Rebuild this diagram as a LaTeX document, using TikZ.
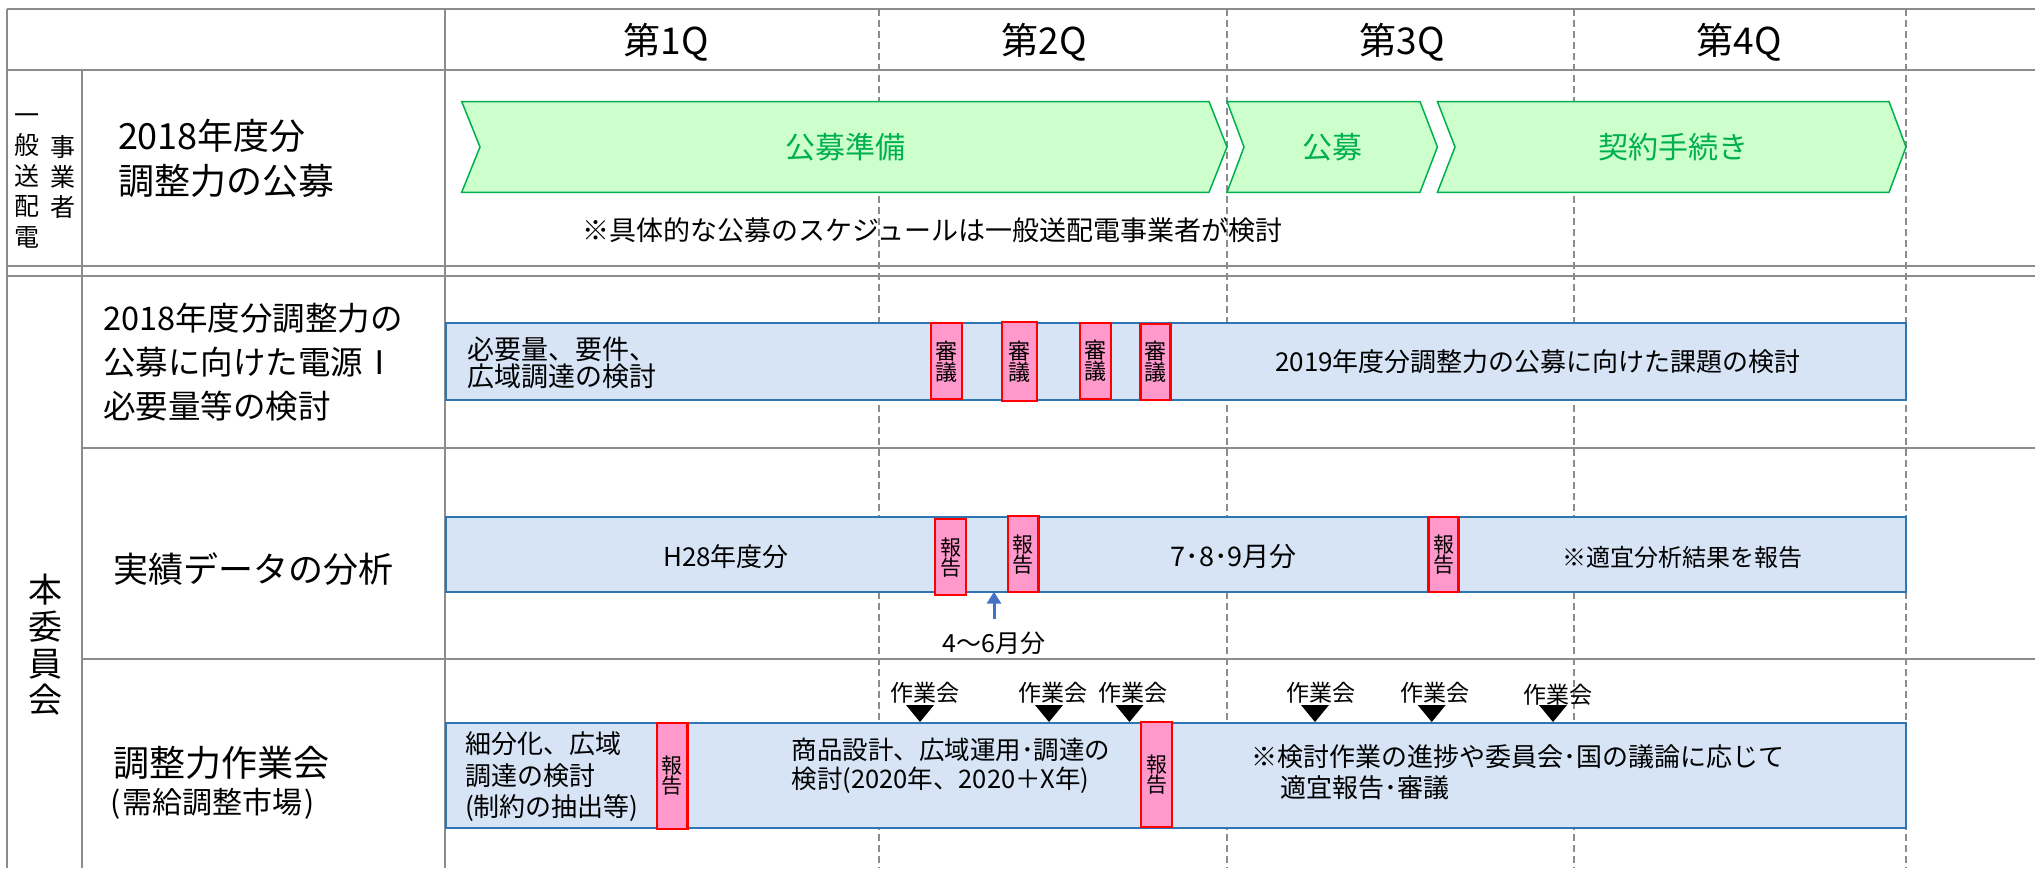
\documentclass[tikz,border=0pt]{standalone}
\usepackage{fontspec}
\setmainfont{Noto Sans CJK JP}
\usetikzlibrary{arrows.meta}
\definecolor{gridgray}{RGB}{140,140,140}
\definecolor{bluefill}{RGB}{214,228,245}
\definecolor{blueborder}{RGB}{46,117,182}
\definecolor{pinkfill}{RGB}{255,153,204}
\definecolor{redb}{RGB}{255,0,0}
\definecolor{greenf}{RGB}{204,255,204}
\definecolor{greenb}{RGB}{0,176,80}
\definecolor{arrowblue}{RGB}{68,114,196}
\newcommand{\setfs}[2]{\fontsize{#1}{#2}\selectfont}
\begin{document}
\begin{tikzpicture}[x=1pt,y=-1pt,
  gridline/.style={draw=gridgray,line width=2pt},
  dashline/.style={draw=gridgray,line width=1.3pt,dash pattern=on 7pt off 4pt},
  txt/.style={inner sep=0pt,outer sep=0pt},
  bluebox/.style={draw=blueborder,fill=bluefill,line width=2pt,inner sep=0pt,outer sep=0pt,anchor=north west},
  pinkbox/.style={draw=redb,fill=pinkfill,line width=2.2pt,inner sep=0pt,outer sep=0pt,align=center},
  chev/.style={draw=greenb,fill=greenf,line width=1.5pt},
  chevtxt/.style={txt,text=greenb,font=\setfs{30}{32}},
  marker/.style={fill=black}
]
\useasboundingbox (0,0) rectangle (2035,868);
% grid
\draw[gridline] (6.7,9.3) -- (2035,9.3);
\draw[gridline] (6.7,70) -- (2035,70);
\draw[gridline] (6.7,266) -- (2035,266);
\draw[gridline] (6.7,276) -- (2035,276);
\draw[gridline] (82,448) -- (2035,448);
\draw[gridline] (82,659) -- (2035,659);
\draw[gridline] (6.7,9.3) -- (6.7,868);
\draw[gridline] (82,70) -- (82,868);
\draw[gridline] (445,9.3) -- (445,868);
\foreach \xx in {879,1227,1574,1906}{\draw[dashline] (\xx,9.3) -- (\xx,868);}
% header
\node[txt,font=\setfs{37}{40}] (q1) at (666,42) {第1Q};
\node[txt,font=\setfs{37}{40}] (q2) at (1044,42) {第2Q};
\node[txt,font=\setfs{37}{40}] (q3) at (1402,42) {第3Q};
\node[txt,font=\setfs{37}{40}] (q4) at (1739,42) {第4Q};
% left labels
\node[txt,align=center,font=\setfs{25}{30.5}] (v1) at (26.7,176) {\vphantom{電}一\\般\\送\\配\\電};
\node[txt,align=center,font=\setfs{25}{30}] (v2) at (63.3,177) {事\\業\\者};
\node[txt,align=center,font=\setfs{34}{36.7}] (v3) at (45,645) {本\\委\\員\\会};
\node[txt,anchor=west,align=left,font=\setfs{36}{45}] (l1) at (118,158.5) {2018年度分\\調整力の公募};
\node[txt,anchor=west,align=left,font=\setfs{32.5}{44.3}] (l2) at (103.3,362.3) {2018年度分調整力の\\公募に向けた電源Ⅰ\\必要量等の検討};
\node[txt,anchor=west,font=\setfs{35}{40}] (l3) at (113.3,569) {実績データの分析};
\node[txt,anchor=west,font=\setfs{36}{40}] (l4a) at (113.3,762.5) {調整力作業会};
\node[txt,anchor=west,font=\setfs{30}{34}] (l4b) at (110,804) {(\hspace{2pt}需給調整市場\hspace{2pt})};
% row 1 chevrons
\draw[chev] (461.7,101.5) -- (1209,101.5) -- (1227,147) -- (1209,192.3) -- (461.7,192.3) -- (480,147) -- cycle;
\draw[chev] (1227,101.5) -- (1420,101.5) -- (1437.4,147) -- (1420,192.3) -- (1227,192.3) -- (1244,147) -- cycle;
\draw[chev] (1437.4,101.5) -- (1889,101.5) -- (1906,147) -- (1889,192.3) -- (1437.4,192.3) -- (1455,147) -- cycle;
\node[chevtxt] (c1) at (845,147) {公募準備};
\node[chevtxt] (c2) at (1332,147) {公募};
\node[chevtxt] (c3) at (1673,147) {契約手続き};
\node[txt,anchor=west,font=\setfs{27}{30}] (note) at (582.6,230) {※具体的な公募のスケジュールは一般送配電事業者が検討};
% row 2
\node[bluebox,minimum width=1460pt,minimum height=77pt] (b2) at (446,323) {};
\node[txt,anchor=west,align=left,font=\setfs{27}{27}] (b2t1) at (467,362.5) {必要量、要件、\\広域調達の検討};
\node[txt,font=\setfs{26}{30}] (b2t2) at (1538,362) {2019年度分調整力の公募に向けた課題の検討};
\foreach \nm/\cx/\cy/\w/\h in {s1/946.5/361.3/31/76, s2/1019.5/361.5/35/79, s3/1095.5/361/31/76.6, s4/1155.5/362/30/76.6}{
  \node[pinkbox,minimum width=\w pt,minimum height=\h pt,font=\setfs{22}{21}] (\nm) at (\cx,\cy) {審\\議};
}
% row 3
\node[bluebox,minimum width=1460pt,minimum height=75pt] (b3) at (446,516.7) {};
\node[txt,font=\setfs{26}{30}] (b3t1) at (726,557) {H28年度分};
\node[txt,font=\setfs{27}{30}] (b3t2) at (1233.5,557) {7･8･9月分};
\node[txt,font=\setfs{24}{30}] (b3t3) at (1682,557) {※適宜分析結果を報告};
\foreach \nm/\cx/\cy/\w/\h in {h1/950.7/557.2/30.7/75.7, h2/1023/554.2/30.8/76.3, h3/1443.5/554.5/30/75.6}{
  \node[pinkbox,minimum width=\w pt,minimum height=\h pt,font=\setfs{21}{20}] (\nm) at (\cx,\cy) {報\\告};
}
\coordinate (arr) at (994,619);
\draw[draw=arrowblue,line width=3pt,-{Triangle[width=14pt,length=12pt]}] (arr) -- (arr |- b3.south);
\node[txt,font=\setfs{25}{30}] (m46) at (994,643) {4〜6月分};
% row 4
\node[bluebox,minimum width=1460.5pt,minimum height=105pt] (b4) at (445.5,722.5) {};
\node[txt,anchor=west,align=left,font=\setfs{26}{31.5}] (b4t1) at (465,777) {細分化、広域\\調達の検討\\(制約の抽出等)};
\node[txt,anchor=west,align=left,font=\setfs{25.5}{29}] (b4t2) at (791.5,765.5) {商品設計、広域運用･調達の\\検討(2020年、2020＋X年)};
\node[txt,anchor=west,align=left,font=\setfs{26}{31}] (b4t3) at (1251,772.5) {※検討作業の進捗や委員会･国の議論に応じて\\\hspace*{29pt}適宜報告･審議};
\foreach \nm/\cx/\cy/\w/\h in {k1/672.3/775.7/30.5/106, k2/1156.7/774.2/31.3/105}{
  \node[pinkbox,minimum width=\w pt,minimum height=\h pt,font=\setfs{21}{20}] (\nm) at (\cx,\cy) {報\\告};
}
% work meetings
\foreach \i/\tx/\lx/\ly in {1/920/925/693, 2/1049/1052.7/693, 3/1129.5/1133/693, 4/1315/1320.5/693, 5/1431.7/1435/693, 6/1553/1557.5/695}{
  \node[txt,font=\setfs{23}{26}] (w\i) at (\lx,\ly) {作業会};
  \coordinate (t\i) at (\tx,722);
  \fill[marker] (t\i) -- ++(-14,-17) -- ++(28,0) -- cycle;
}
\end{tikzpicture}
\end{document}
